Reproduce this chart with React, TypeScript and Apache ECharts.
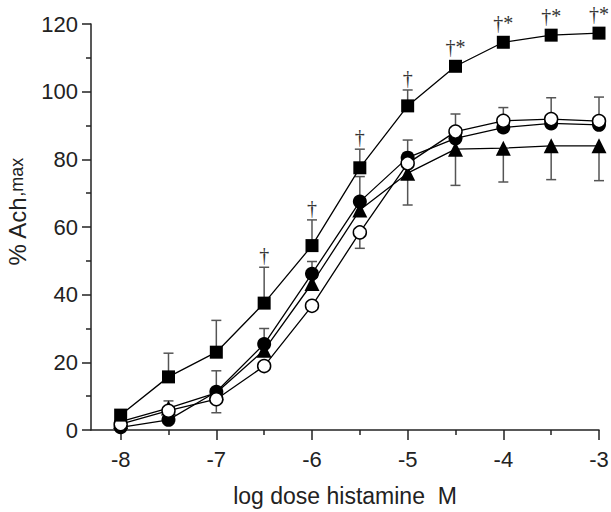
import React, { useEffect, useRef } from "react";
import * as echarts from "echarts";

const doses = [-8, -7.5, -7, -6.5, -6, -5.5, -5, -4.5, -4, -3.5, -3];
const xMajorTicks = [-8, -7, -6, -5, -4, -3];
const xMinorTicks = [-7.5, -6.5, -5.5, -4.5, -3.5];
const yLabels = [0, 20, 40, 60, 80, 100, 120];

const squareVals = [4.4, 15.7, 23.0, 37.5, 54.5, 77.5, 95.8, 107.5, 114.6, 116.7, 117.3];
const squareErrUp = [0, 7.0, 9.4, 10.6, 7.6, 5.5, 4.7, 0, 0, 0, 0];
const squareMarks = ["", "", "", "†", "†", "†", "†", "†*", "†*", "†*", "†*"];

const filledVals = [0.8, 3.0, 11.3, 25.4, 46.2, 67.5, 80.5, 86.2, 89.4, 90.6, 90.2];
const filledErrUp = [0, 5.6, 6.2, 4.6, 3.6, 7.4, 0, 0, 0, 0, 0];

const openVals = [1.7, 5.7, 9.1, 18.9, 36.7, 58.4, 78.8, 88.2, 91.4, 91.9, 91.3];
const openErrUp = [0, 0, 0, 0, 0, 0, 6.9, 5.2, 3.9, 6.3, 7.1];
const openErrDown = [0, 0, 4.0, 0, 0, 4.7, 0, 0, 0, 0, 0];

const triangleVals = [2.5, 6.5, 11.0, 23.6, 43.3, 65.0, 75.9, 83.0, 83.3, 84.0, 84.0];
const triangleErrDown = [0, 0, 0, 0, 0, 0, 9.4, 10.7, 10.0, 10.0, 10.3];

const FONT = "'Liberation Sans Narrow', 'Arial Narrow', 'Liberation Sans', Arial, sans-serif";

function pairs(vals: number[]) {
  return doses.map((d, i) => [d, vals[i]]);
}

function errSeries(vals: number[], up: number[], down: number[], marks?: string[]) {
  return {
    type: "custom",
    z: 1,
    silent: true,
    data: doses.map((d, i) => [d, vals[i], up[i], down[i]]),
    encode: { x: 0, y: 1 },
    renderItem: (params: any, api: any) => {
      const x = api.value(0);
      const v = api.value(1);
      const u = api.value(2);
      const dn = api.value(3);
      const p = api.coord([x, v]);
      const children: any[] = [];
      const st = { stroke: "#555", lineWidth: 1.5 };
      const cap = 5;
      let topY = p[1] - 7;
      if (u > 0) {
        const t = api.coord([x, v + u]);
        children.push({ type: "line", shape: { x1: p[0], y1: p[1], x2: t[0], y2: t[1] }, style: st });
        children.push({ type: "line", shape: { x1: t[0] - cap, y1: t[1], x2: t[0] + cap, y2: t[1] }, style: st });
        topY = t[1];
      }
      if (dn > 0) {
        const b = api.coord([x, v - dn]);
        children.push({ type: "line", shape: { x1: p[0], y1: p[1], x2: b[0], y2: b[1] }, style: st });
        children.push({ type: "line", shape: { x1: b[0] - cap, y1: b[1], x2: b[0] + cap, y2: b[1] }, style: st });
      }
      const m = marks ? marks[params.dataIndex] : "";
      if (m) {
        children.push({
          type: "text",
          x: p[0],
          y: topY - 2,
          style: {
            text: m,
            fontFamily: "'Liberation Serif', 'Times New Roman', serif",
            fontSize: 20,
            fill: "#333",
            align: "center",
            verticalAlign: "bottom",
          },
        });
      }
      return { type: "group", children };
    },
  };
}

export default function App() {
  const ref = useRef<HTMLDivElement>(null);
  useEffect(() => {
    if (!ref.current) return;
    const chart = echarts.init(ref.current, null, { renderer: "svg" });
    const lineBase = {
      type: "line",
      lineStyle: { color: "#000", width: 1.3 },
      itemStyle: { color: "#000" },
      emphasis: { disabled: true },
      z: 3,
    };
    chart.setOption({
      animation: false,
      grid: { left: 91, right: 12, top: 24, bottom: 82, outerBoundsMode: "none", containLabel: false },
      xAxis: [
        {
          type: "value",
          min: -8.31,
          max: -3,
          name: "log dose histamine  M",
          nameLocation: "middle",
          nameGap: 54,
          nameTextStyle: { fontFamily: FONT, fontSize: 23, color: "#222" },
          axisLine: { show: true, onZero: false, lineStyle: { color: "#222", width: 1.5 } },
          axisTick: { show: true, length: 10, customValues: xMajorTicks, lineStyle: { color: "#222", width: 1.5 } },
          axisLabel: { customValues: xMajorTicks, fontFamily: FONT, fontSize: 22, color: "#222", margin: 18 },
          splitLine: { show: false },
        },
        {
          type: "value",
          min: -8.31,
          max: -3,
          position: "bottom",
          axisLine: { show: false },
          axisTick: { show: true, length: 5, customValues: xMinorTicks, lineStyle: { color: "#222", width: 1.5 } },
          axisLabel: { show: false },
          splitLine: { show: false },
        },
      ],
      yAxis: {
        type: "value",
        min: 0,
        max: 120,
        interval: 20,
        name: "{a|% Ach}{b|,max}",
        nameLocation: "middle",
        nameGap: 62,
        nameTextStyle: {
          padding: [0, 0, 0, 30],
          rich: {
            a: { fontFamily: FONT, fontSize: 24, color: "#222", verticalAlign: "bottom" },
            b: { fontFamily: FONT, fontSize: 18, color: "#222", verticalAlign: "bottom", padding: [0, 0, 3, 0] },
          },
        },
        axisLine: { show: true, lineStyle: { color: "#222", width: 1.5 } },
        axisTick: { show: true, length: 9, lineStyle: { color: "#222", width: 1.5 } },
        minorTick: { show: true, splitNumber: 2, length: 5, lineStyle: { color: "#222", width: 1.5 } },
        axisLabel: { customValues: yLabels, fontFamily: FONT, fontSize: 22, color: "#222", margin: 13 },
        splitLine: { show: false },
      },
      series: [
        errSeries(triangleVals, doses.map(() => 0), triangleErrDown),
        errSeries(filledVals, filledErrUp, doses.map(() => 0)),
        errSeries(openVals, openErrUp, openErrDown),
        errSeries(squareVals, squareErrUp, doses.map(() => 0), squareMarks),
        { ...lineBase, name: "triangle", data: pairs(triangleVals), symbol: "triangle", symbolSize: 15 },
        { ...lineBase, name: "filled", data: pairs(filledVals), symbol: "circle", symbolSize: 14 },
        {
          ...lineBase,
          name: "open",
          data: pairs(openVals),
          symbol: "circle",
          symbolSize: 13,
          itemStyle: { color: "#fff", borderColor: "#000", borderWidth: 1.5 },
        },
        { ...lineBase, name: "square", data: pairs(squareVals), symbol: "rect", symbolSize: 13 },
      ],
    });
    return () => chart.dispose();
  }, []);
  return <div ref={ref} style={{ width: 611, height: 512, position: "absolute", left: 0, top: 0 }} />;
}
